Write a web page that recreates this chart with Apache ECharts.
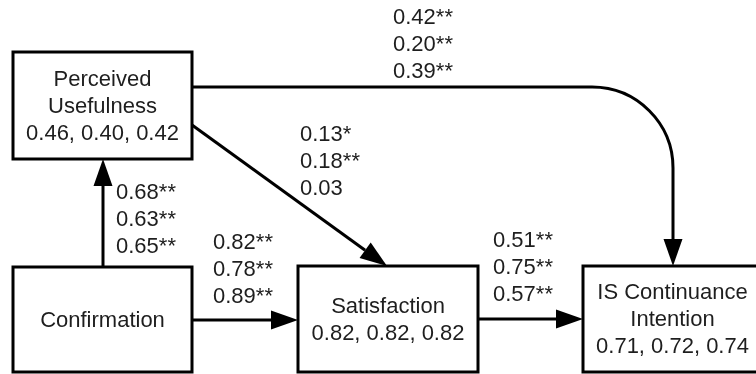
<!DOCTYPE html>
<html>
<head>
<meta charset="utf-8">
<script src="https://cdn.jsdelivr.net/npm/echarts@6/dist/echarts.min.js"></script>
<style>html,body{margin:0;padding:0;background:#fff}#chart{width:756px;height:374px}</style>
</head>
<body>
<div id="chart"></div>
<script>
// ---- content ----
const nodeTitles = ['Perceived\nUsefulness', 'Confirmation', 'Satisfaction', 'IS Continuance\nIntention'];
const nodeR2 = ['0.46, 0.40, 0.42', '', '0.82, 0.82, 0.82', '0.71, 0.72, 0.74'];
const pathFrom = [1, 1, 0, 2, 0];
const pathTo = [0, 2, 2, 3, 3];
const pathCoef1 = ['0.68**', '0.82**', '0.13*', '0.51**', '0.42**'];
const pathCoef2 = ['0.63**', '0.78**', '0.18**', '0.75**', '0.20**'];
const pathCoef3 = ['0.65**', '0.89**', '0.03', '0.57**', '0.39**'];

// ---- layout (diagram coordinate space, one unit = one pixel) ----
const boxLayout = [[13, 52, 192, 159], [13, 267, 192, 372], [298, 266, 478, 372], [583, 266, 762, 372]];
// route: start, (optional corner with radius), end
const pathRoute = [
  {pts: [[103, 267], [103, 159]]},
  {pts: [[192, 320], [298, 320]]},
  {pts: [[192, 125], [387, 266]]},
  {pts: [[478, 319], [583, 319]]},
  {pts: [[192, 87], [673, 87], [673, 266]], radius: 81}
];
const labelLayout = [[116, 193], [213, 243], [300, 135], [493, 241], [393, 18]];

const FONT = '"Liberation Sans", Arial, Helvetica, sans-serif';
const FS = 22, LH = 27, TXT = '#1e1e1e';
const LW = 3, HEAD_L = 27, HEAD_W = 9.5;

const chart = echarts.init(document.getElementById('chart'), null, {renderer: 'canvas'});

function renderBox(params, api) {
  const i = api.value(0);
  const b = boxLayout[i];
  const p0 = api.coord([b[0], b[1]]);
  const p1 = api.coord([b[2], b[3]]);
  const text = nodeR2[i] ? nodeTitles[i] + '\n' + nodeR2[i] : nodeTitles[i];
  return {
    type: 'group',
    children: [
      {type: 'rect', shape: {x: p0[0], y: p0[1], width: p1[0] - p0[0], height: p1[1] - p0[1]},
       style: {fill: '#fff', stroke: '#000', lineWidth: LW}},
      {type: 'text', style: {text: text, x: (p0[0] + p1[0]) / 2, y: (p0[1] + p1[1]) / 2 + 1,
        align: 'center', verticalAlign: 'middle', fontSize: FS, lineHeight: LH, fontFamily: FONT, fill: TXT}}
    ]
  };
}

function arrowHead(tip, from) {
  const dx = tip[0] - from[0], dy = tip[1] - from[1];
  const len = Math.sqrt(dx * dx + dy * dy);
  const ux = dx / len, uy = dy / len;
  const bx = tip[0] - ux * HEAD_L, by = tip[1] - uy * HEAD_L;
  return {pts: [tip, [bx - uy * HEAD_W, by + ux * HEAD_W], [bx + uy * HEAD_W, by - ux * HEAD_W]], base: [bx, by]};
}

function renderPath(params, api) {
  const i = api.value(0);
  const r = pathRoute[i];
  const pts = r.pts.map(p => api.coord(p));
  const children = [];
  if (pts.length === 2) {
    const h = arrowHead(pts[1], pts[0]);
    children.push({type: 'line', shape: {x1: pts[0][0], y1: pts[0][1], x2: h.base[0], y2: h.base[1]},
      style: {stroke: '#000', lineWidth: LW}});
    children.push({type: 'polygon', shape: {points: h.pts}, style: {fill: '#000'}});
  } else {
    const rad = r.radius;
    const a = pts[0], c = pts[1], e = pts[2];
    const k = 0.5523 * rad;
    const s1 = [c[0] - rad, c[1]];
    const s2 = [c[0], c[1] + rad];
    const h = arrowHead(e, s2);
    const d = 'M' + a[0] + ' ' + a[1] + ' L' + s1[0] + ' ' + s1[1] +
      ' C' + (s1[0] + k) + ' ' + s1[1] + ' ' + s2[0] + ' ' + (s2[1] - k) + ' ' + s2[0] + ' ' + s2[1] +
      ' L' + h.base[0] + ' ' + h.base[1];
    children.push({type: 'path', shape: {pathData: d}, style: {fill: null, stroke: '#000', lineWidth: LW}});
    children.push({type: 'polygon', shape: {points: h.pts}, style: {fill: '#000'}});
  }
  return {type: 'group', children: children};
}

function renderLabel(params, api) {
  const i = api.value(0);
  const p = api.coord(labelLayout[i]);
  return {
    type: 'text',
    style: {text: pathCoef1[i] + '\n' + pathCoef2[i] + '\n' + pathCoef3[i], x: p[0], y: p[1] - LH / 2,
      align: 'left', verticalAlign: 'top', fontSize: FS, lineHeight: LH, fontFamily: FONT, fill: TXT}
  };
}

const idxBoxes = nodeTitles.map((_, i) => [i]);
const idxPaths = pathFrom.map((_, i) => [i]);

chart.setOption({
  animation: false,
  backgroundColor: '#fff',
  grid: {left: 0, right: 0, top: 0, bottom: 0},
  xAxis: {type: 'value', min: 0, max: 756, show: false},
  yAxis: {type: 'value', min: 0, max: 374, inverse: true, show: false},
  series: [
    {type: 'custom', clip: false, renderItem: renderPath, data: idxPaths, z: 1},
    {type: 'custom', clip: false, renderItem: renderBox, data: idxBoxes, z: 2},
    {type: 'custom', clip: false, renderItem: renderLabel, data: idxPaths, z: 3}
  ]
});
</script>
</body>
</html>
